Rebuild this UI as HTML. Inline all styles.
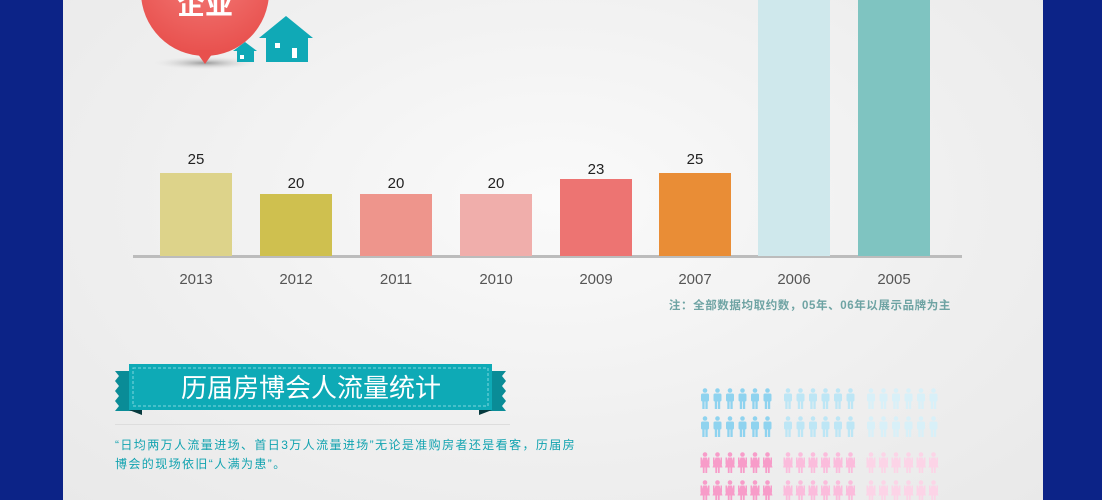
<!DOCTYPE html><html><head><meta charset="utf-8"><style>
body{margin:0;width:1102px;height:500px;overflow:hidden;background:#0c2387;font-family:"Liberation Sans","Noto Sans CJK SC",sans-serif}
#p{position:absolute;left:63px;top:0;width:980px;height:500px;background:radial-gradient(ellipse at 50% 40%,#fafafa 0%,#efefef 60%,#e9e9e9 100%)}
.b{position:absolute;width:72px;bottom:244px}
.v{position:absolute;font-size:15px;color:#222;width:72px;text-align:center}
.y{position:absolute;top:271px;font-size:15px;color:#555;width:72px;text-align:center}
</style></head><body>
<div id="p"></div>
<svg width="1102" height="500" style="position:absolute;left:0;top:0">
<defs>
<radialGradient id="rg" cx="50%" cy="30%" r="70%"><stop offset="0" stop-color="#f47f7c"/><stop offset="1" stop-color="#e8504d"/></radialGradient>
<radialGradient id="sh"><stop offset="0" stop-color="#999"/><stop offset="1" stop-color="#eee" stop-opacity="0"/></radialGradient>
<g id="m"><circle cx="5" cy="2.5" r="2.3"/><rect x="1" y="5.5" width="8" height="8" rx="1.5"/><rect x="2.3" y="12" width="2.3" height="9"/><rect x="5.4" y="12" width="2.3" height="9"/></g>
<g id="w"><circle cx="5" cy="2.5" r="2.3"/><path d="M3 5.5h4l3 10H0z"/><rect x="0.5" y="5.5" width="1.5" height="7"/><rect x="8" y="5.5" width="1.5" height="7"/><rect x="2.8" y="15" width="1.8" height="6"/><rect x="5.4" y="15" width="1.8" height="6"/></g>
</defs>
<ellipse cx="205" cy="63" rx="55" ry="7" fill="url(#sh)"/>
<circle cx="205" cy="-8" r="64" fill="url(#rg)"/>
<path d="M195 50 L215 50 L205 64Z" fill="#e8504d"/>
<text x="205" y="14" font-size="28" fill="#fff" text-anchor="middle" font-weight="bold">企业</text>
<g fill="#10a9b6"><path d="M233 51 L245 42 L257 51 L254 51 L254 62 L237 62 L237 51Z"/><path d="M259 38 L286 16 L313 38 L308 38 L308 62 L266 62 L266 38Z"/></g>
<rect x="292" y="48" width="5" height="10" fill="#fff"/><rect x="275" y="43" width="5" height="5" fill="#fff"/>
<rect x="240" y="55" width="4" height="4" fill="#fff"/>
<rect x="133" y="255" width="829" height="3" fill="#bcbcbc"/>
<text x="951" y="309" font-size="11.5" fill="#6ea3a3" text-anchor="end" font-weight="bold" letter-spacing="0.6">注：全部数据均取约数，05年、06年以展示品牌为主</text>
<path d="M115 371 h20 v40 h-20 l4-5 -4-5 4-5 -4-5 4-5 -4-5 4-5z" fill="#0a8c97"/>
<path d="M506 371 h-20 v40 h20 l-4-5 4-5 -4-5 4-5 -4-5 4-5 -4-5z" fill="#0a8c97"/>
<path d="M129 410 l13 5 v-5z M492 410 l-13 5 v-5z" fill="#063a3e"/>
<rect x="129" y="364" width="363" height="46" fill="#0eaab6"/>
<rect x="133" y="368" width="355" height="38" fill="none" stroke="#7fd7dd" stroke-dasharray="3 2"/>
<text x="311" y="397" font-size="26" fill="#fff" text-anchor="middle">历届房博会人流量统计</text>
<rect x="115" y="424" width="395" height="1" fill="#ddd"/>
<text x="115" y="449" font-size="12" fill="#12a3b0" letter-spacing="1.4">“日均两万人流量进场、首日3万人流量进场”无论是准购房者还是看客，历届房</text>
<text x="115" y="468" font-size="12" fill="#12a3b0" letter-spacing="1.4">博会的现场依旧“人满为患”。</text>
<g id="icons"></g>
</svg>
<div class="b" style="left:160px;height:83px;background:#ddd38a"></div><div class="v" style="left:160px;top:151px">25</div><div class="y" style="left:160px">2013</div>
<div class="b" style="left:260px;height:62px;background:#cfc04f"></div><div class="v" style="left:260px;top:175px">20</div><div class="y" style="left:260px">2012</div>
<div class="b" style="left:360px;height:62px;background:#ee958c"></div><div class="v" style="left:360px;top:175px">20</div><div class="y" style="left:360px">2011</div>
<div class="b" style="left:460px;height:62px;background:#f0aeab"></div><div class="v" style="left:460px;top:175px">20</div><div class="y" style="left:460px">2010</div>
<div class="b" style="left:560px;height:77px;background:#ed7472"></div><div class="v" style="left:560px;top:161px">23</div><div class="y" style="left:560px">2009</div>
<div class="b" style="left:659px;height:83px;background:#e98d36"></div><div class="v" style="left:659px;top:151px">25</div><div class="y" style="left:659px">2007</div>
<div class="b" style="left:758px;height:256px;background:#cfe8ec"></div><div class="y" style="left:758px">2006</div>
<div class="b" style="left:858px;height:256px;background:#7fc4c1"></div><div class="y" style="left:858px">2005</div>
<script>
var g=document.getElementById('icons'),s='';
var cm=['#8fd3ef','#bde6f5','#d8f0f8'],cw=['#f79cc9','#fbbcdc','#fcd4e7'];
var rows=[[388,'m',cm],[416,'m',cm],[452,'w',cw],[480,'w',cw]];
rows.forEach(function(r){for(var k=0;k<3;k++)for(var i=0;i<6;i++){s+='<use href="#'+r[1]+'" x="'+(700+k*83+i*12.5)+'" y="'+r[0]+'" fill="'+r[2][k]+'"/>';}});
g.innerHTML=s;
</script>
</body></html>
